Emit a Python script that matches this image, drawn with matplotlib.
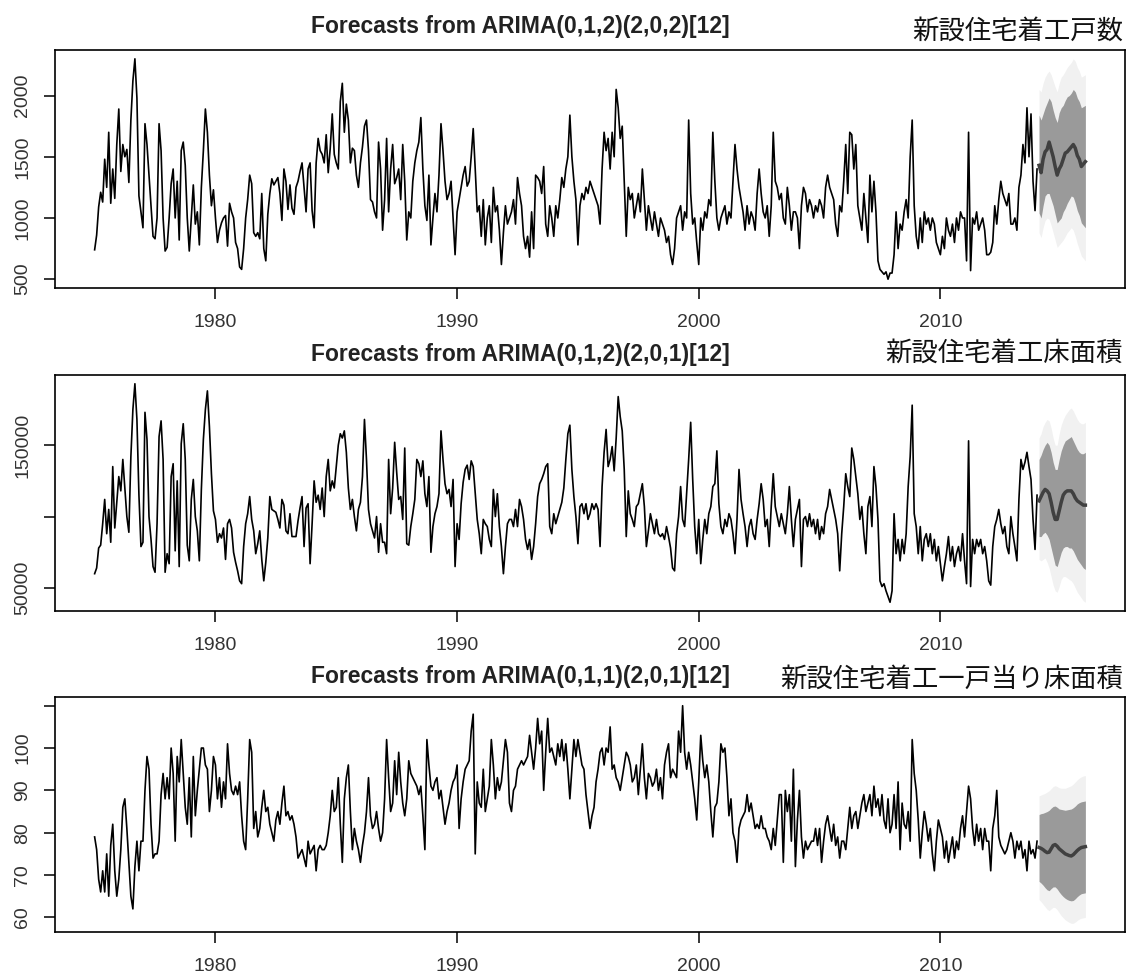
# Three ARIMA forecast panels for Japanese housing starts (monthly, 1975-2014)

import numpy as np
import matplotlib
matplotlib.use("Agg")
import matplotlib.pyplot as plt

# --- data: monthly, Jan 1975 .. Jan 2014, one row per year ---
starts = [
    740, 860, 1090, 1210, 1130, 1480, 1250, 1700, 1120, 1400, 1160, 1600,
    1890, 1380, 1600, 1500, 1560, 1290, 1800, 2120, 2300, 1980, 1180, 1050,
    920, 1770, 1600, 1350, 1100, 850, 830, 1000, 1770, 1550, 1000, 730,
    760, 1000, 1280, 1400, 1000, 1300, 820, 1550, 1620, 1430, 1000, 730,
    1000, 1270, 950, 1050, 780, 1250, 1550, 1890, 1700, 1350, 1100, 1230,
    1000, 800, 900, 960, 1000, 1020, 770, 1120, 1050, 1000, 800, 750,
    600, 580, 750, 1000, 1150, 1350, 1280, 880, 850, 880, 830, 1200,
    750, 650, 1030, 1200, 1320, 1270, 1300, 1330, 1200, 980, 1400, 1300,
    1070, 1270, 1080, 1030, 1250, 1300, 1380, 1450, 1250, 1050, 1400, 1450,
    1060, 920, 1450, 1650, 1550, 1520, 1450, 1680, 1370, 1570, 1850, 1520,
    1450, 1400, 1950, 2100, 1700, 1930, 1800, 1450, 1570, 1550, 1350, 1250,
    1450, 1580, 1750, 1800, 1550, 1150, 1130, 1050, 1000, 1620, 1400, 900,
    1150, 1650, 1050, 1400, 1600, 1280, 1330, 1400, 1150, 1600, 1300, 820,
    1050, 1000, 1300, 1450, 1550, 1620, 1820, 1400, 1100, 980, 1350, 780,
    1000, 1200, 1050, 1350, 1770, 1550, 1300, 1150, 1200, 1300, 1000, 700,
    1050, 1150, 1250, 1350, 1420, 1260, 1300, 1500, 1730, 1400, 1050, 1100,
    850, 1150, 780, 1000, 1100, 800, 1250, 1050, 1100, 900, 620, 880,
    1100, 950, 1000, 1050, 1150, 950, 1330, 1200, 1100, 850, 750, 850,
    680, 1050, 750, 1350, 1330, 1300, 1200, 1420, 950, 850, 1100, 1000,
    850, 1100, 1000, 1150, 1330, 1250, 1400, 1500, 1840, 1500, 1300, 1150,
    780, 1100, 1200, 1150, 1250, 1200, 1300, 1250, 1200, 1150, 1100, 950,
    1400, 1700, 1550, 1650, 1400, 1700, 1500, 2050, 1900, 1650, 1750, 1300,
    850, 1250, 1150, 1200, 1000, 1100, 1200, 1050, 1400, 1150, 900, 1100,
    1000, 900, 1050, 950, 850, 1000, 950, 900, 800, 850, 700, 620,
    750, 1000, 1050, 1100, 900, 1050, 1000, 1800, 1200, 950, 1000, 800,
    620, 1000, 900, 1050, 1000, 1150, 1100, 1700, 1300, 1000, 900, 1000,
    1050, 1100, 950, 1050, 1000, 1300, 1600, 1400, 1250, 1150, 1050, 900,
    1100, 950, 1050, 1000, 900, 1200, 1400, 1200, 1050, 1000, 1100, 850,
    1100, 1700, 1300, 1250, 1150, 1200, 1000, 950, 1250, 1100, 900, 1050,
    1050, 1000, 750, 1100, 1250, 1200, 1050, 1150, 1100, 1000, 1100, 1050,
    1150, 1100, 1000, 1250, 1350, 1250, 1200, 1150, 950, 850, 1100, 1050,
    1300, 1600, 1200, 1700, 1680, 1400, 1600, 1100, 1000, 900, 1200, 1000,
    800, 1350, 1050, 1300, 1050, 650, 580, 560, 540, 560, 500, 550,
    550, 700, 1050, 750, 950, 900, 1050, 1150, 1000, 1500, 1800, 1100,
    850, 750, 1000, 800, 1050, 950, 1000, 900, 1000, 950, 800, 750,
    700, 850, 750, 1000, 900, 850, 950, 800, 1000, 900, 1050, 1000,
    1000, 650, 1700, 570, 1000, 950, 1050, 900, 950, 1000, 900, 700,
    700, 720, 800, 1100, 950, 1150, 1300, 1200, 1150, 1100, 1200, 950,
    950, 1000, 900, 1250, 1350, 1600, 1450, 1900, 1500, 1850, 1300, 1060,
    1400,
]

area = [
    60000, 64000, 78000, 80000, 95000, 112000, 88000, 105000, 82000, 135000, 92000, 110000,
    128000, 118000, 140000, 120000, 100000, 89000, 142000, 175000, 193000, 168000, 115000, 79000,
    82000, 173000, 154000, 100000, 84000, 65000, 61000, 95000, 156000, 167000, 140000, 61000,
    74000, 67000, 128000, 137000, 76000, 125000, 65000, 151000, 165000, 140000, 80000, 69000,
    112000, 126000, 100000, 90000, 69000, 119000, 154000, 175000, 188000, 163000, 130000, 104000,
    98000, 82000, 88000, 85000, 92000, 70000, 95000, 98000, 92000, 75000, 68000, 62000,
    55000, 53000, 79000, 95000, 102000, 114000, 98000, 90000, 74000, 81000, 90000, 70000,
    55000, 68000, 85000, 114000, 105000, 104000, 103000, 98000, 92000, 112000, 108000, 90000,
    88000, 102000, 86000, 86000, 86000, 97000, 106000, 114000, 79000, 106000, 109000, 67000,
    95000, 125000, 110000, 115000, 105000, 120000, 100000, 128000, 140000, 118000, 125000, 120000,
    135000, 150000, 158000, 155000, 160000, 145000, 120000, 105000, 112000, 100000, 90000, 105000,
    110000, 128000, 168000, 140000, 105000, 95000, 90000, 85000, 100000, 75000, 95000, 82000,
    82000, 74000, 140000, 102000, 120000, 152000, 131000, 112000, 114000, 98000, 148000, 81000,
    80000, 93000, 102000, 112000, 140000, 137000, 128000, 139000, 116000, 107000, 128000, 75000,
    93000, 102000, 107000, 116000, 160000, 140000, 123000, 116000, 119000, 107000, 126000, 65000,
    95000, 84000, 109000, 124000, 133000, 136000, 126000, 139000, 135000, 116000, 98000, 88000,
    74000, 98000, 95000, 93000, 84000, 79000, 119000, 100000, 116000, 93000, 79000, 60000,
    79000, 95000, 98000, 98000, 93000, 105000, 93000, 112000, 107000, 98000, 84000, 77000,
    84000, 70000, 79000, 95000, 114000, 123000, 126000, 130000, 135000, 137000, 93000, 88000,
    102000, 95000, 100000, 105000, 110000, 120000, 140000, 158000, 164000, 133000, 114000, 100000,
    81000, 107000, 109000, 102000, 109000, 98000, 102000, 109000, 105000, 109000, 105000, 79000,
    121000, 145000, 161000, 135000, 140000, 149000, 132000, 155000, 184000, 170000, 160000, 133000,
    86000, 118000, 102000, 98000, 93000, 107000, 109000, 116000, 123000, 107000, 79000, 90000,
    102000, 95000, 88000, 98000, 88000, 86000, 88000, 84000, 93000, 86000, 78000, 64000,
    62000, 88000, 100000, 121000, 98000, 93000, 116000, 140000, 166000, 126000, 93000, 74000,
    98000, 67000, 84000, 98000, 88000, 102000, 107000, 121000, 123000, 146000, 109000, 93000,
    88000, 98000, 93000, 102000, 98000, 88000, 74000, 98000, 133000, 112000, 102000, 93000,
    79000, 93000, 98000, 88000, 84000, 98000, 109000, 123000, 112000, 93000, 98000, 79000,
    107000, 130000, 107000, 100000, 93000, 102000, 95000, 88000, 102000, 121000, 98000, 79000,
    98000, 105000, 112000, 65000, 98000, 100000, 93000, 102000, 93000, 98000, 88000, 98000,
    84000, 93000, 88000, 102000, 107000, 119000, 112000, 105000, 98000, 88000, 62000, 88000,
    107000, 130000, 121000, 114000, 148000, 140000, 128000, 116000, 98000, 107000, 88000, 74000,
    107000, 114000, 93000, 135000, 121000, 98000, 55000, 51000, 53000, 48000, 44000, 40000,
    48000, 102000, 74000, 84000, 69000, 84000, 74000, 88000, 121000, 142000, 178000, 102000,
    93000, 74000, 93000, 69000, 84000, 88000, 79000, 88000, 74000, 84000, 69000, 79000,
    67000, 55000, 65000, 74000, 86000, 69000, 79000, 65000, 74000, 79000, 69000, 88000,
    69000, 53000, 153000, 51000, 84000, 74000, 84000, 79000, 84000, 74000, 79000, 69000,
    55000, 52000, 79000, 93000, 98000, 105000, 95000, 88000, 93000, 79000, 74000, 100000,
    88000, 79000, 69000, 112000, 140000, 133000, 138000, 145000, 135000, 126000, 98000, 77000,
    115000,
]

per_unit = [
    79, 76, 69, 66, 71, 66, 75, 65, 77, 82, 71, 65,
    69, 76, 86, 88, 81, 73, 65, 62, 72, 78, 71, 78,
    78, 90, 98, 95, 82, 74, 75, 75, 78, 89, 94, 88,
    93, 88, 100, 94, 78, 98, 92, 102, 94, 86, 82, 93,
    79, 98, 84, 90, 95, 100, 100, 96, 95, 85, 90, 98,
    96, 88, 93, 86, 92, 88, 101, 94, 90, 89, 91, 89,
    92, 84, 78, 76, 88, 102, 99, 81, 85, 79, 81, 86,
    90, 85, 86, 82, 80, 78, 83, 85, 82, 87, 91, 84,
    85, 83, 84, 82, 79, 74, 75, 76, 74, 72, 78, 75,
    76, 77, 71, 76, 77, 76, 76, 77, 80, 84, 90, 85,
    86, 93, 82, 73, 88, 93, 96, 85, 76, 81, 78, 76,
    73, 77, 80, 85, 93, 84, 81, 82, 85, 81, 78, 80,
    88, 102, 93, 85, 87, 97, 89, 99, 92, 87, 84, 88,
    97, 94, 93, 92, 91, 89, 91, 84, 76, 102, 96, 91,
    90, 92, 93, 88, 90, 86, 82, 85, 87, 90, 92, 93,
    96, 81, 88, 92, 95, 96, 97, 104, 108, 75, 92, 87,
    86, 95, 85, 88, 91, 102, 96, 88, 93, 90, 92, 97,
    102, 99, 87, 85, 90, 91, 95, 96, 97, 96, 97, 98,
    103, 99, 95, 100, 107, 101, 104, 90, 99, 107, 99, 100,
    98, 96, 101, 98, 102, 97, 101, 95, 88, 95, 102, 98,
    102, 99, 96, 95, 89, 85, 81, 84, 86, 92, 95, 99,
    100, 96, 100, 99, 105, 95, 96, 93, 92, 90, 93, 96,
    99, 98, 96, 92, 93, 96, 89, 95, 101, 93, 88, 94,
    93, 91, 92, 95, 90, 93, 88, 96, 99, 101, 93, 95,
    94, 93, 104, 99, 110, 99, 95, 99, 96, 92, 88, 83,
    92, 103, 97, 93, 96, 92, 85, 79, 86, 87, 92, 101,
    99, 100, 93, 84, 88, 80, 78, 73, 81, 83, 84, 85,
    89, 85, 87, 84, 81, 82, 81, 84, 81, 81, 79, 78,
    76, 81, 77, 83, 89, 89, 73, 90, 85, 89, 78, 95,
    72, 83, 90, 79, 74, 78, 76, 77, 78, 78, 81, 77,
    81, 73, 78, 82, 84, 81, 78, 82, 77, 79, 74, 78,
    78, 76, 81, 86, 81, 84, 85, 81, 84, 87, 89, 85,
    87, 89, 84, 91, 86, 88, 84, 89, 83, 81, 88, 80,
    82, 89, 81, 92, 76, 87, 82, 81, 85, 78, 102, 94,
    90, 83, 74, 80, 85, 82, 78, 81, 75, 71, 78, 83,
    81, 79, 74, 78, 73, 76, 79, 74, 78, 76, 81, 84,
    79, 85, 91, 88, 81, 77, 82, 78, 81, 76, 81, 78,
    78, 71, 81, 84, 90, 79, 77, 76, 75, 76, 78, 80,
    78, 74, 78, 76, 78, 74, 76, 71, 78, 75, 76, 74,
    78,
]

# --- forecasts: 24 months, Feb 2014 .. Jan 2016 ---
starts_mean = [1430, 1370, 1480, 1540, 1560, 1620, 1560, 1500, 1420, 1350, 1400, 1430,
               1480, 1530, 1540, 1560, 1580, 1600, 1570, 1510, 1480, 1420, 1440, 1460]
starts_lo80 = [1040, 1000, 1100, 1180, 1200, 1200, 1150, 1100, 1030, 960, 980, 1000,
               1050, 1080, 1120, 1150, 1180, 1170, 1120, 1060, 1020, 960, 940, 920]
starts_hi80 = [1840, 1800, 1850, 1900, 1940, 1980, 1950, 1880, 1820, 1780, 1860, 1900,
               1920, 1960, 1990, 2000, 2020, 2050, 2030, 1980, 1950, 1900, 1910, 1920]
starts_lo95 = [880, 840, 920, 980, 1000, 990, 940, 880, 820, 760, 780, 800,
               820, 850, 880, 900, 920, 900, 850, 790, 740, 690, 670, 650]
starts_hi95 = [2050, 2030, 2100, 2150, 2180, 2200, 2170, 2120, 2070, 2030, 2100, 2150,
               2170, 2200, 2230, 2250, 2270, 2300, 2280, 2230, 2200, 2150, 2160, 2170]

area_mean = [111000, 114000, 117000, 119000, 118000, 116000, 110000, 103000, 98000, 98000, 104000, 110000,
             115000, 117000, 118000, 118000, 118000, 116000, 113000, 111000, 110000, 109000, 108000, 108000]
area_lo80 = [86000, 86000, 88000, 89000, 87000, 84000, 78000, 72000, 66000, 65000, 70000, 75000,
             78000, 79000, 79000, 78000, 78000, 76000, 73000, 70000, 68000, 66000, 64000, 63000]
area_hi80 = [140000, 143000, 147000, 150000, 152000, 150000, 145000, 138000, 133000, 133000, 140000, 146000,
             150000, 153000, 154000, 155000, 156000, 153000, 150000, 147000, 145000, 144000, 144000, 145000]
area_lo95 = [70000, 69000, 70000, 71000, 68000, 64000, 58000, 52000, 48000, 47000, 51000, 56000,
             58000, 58000, 57000, 56000, 55000, 53000, 50000, 47000, 45000, 43000, 41000, 40000]
area_hi95 = [155000, 158000, 163000, 166000, 168000, 167000, 162000, 155000, 150000, 150000, 158000, 164000,
             168000, 171000, 173000, 175000, 176000, 174000, 171000, 168000, 166000, 165000, 165000, 166000]

unit_mean = [76.5, 76.3, 76.0, 75.6, 75.3, 75.4, 76.2, 77.0, 77.2, 76.8, 76.2, 75.8,
             75.4, 75.0, 74.8, 74.6, 74.5, 74.8, 75.3, 75.8, 76.2, 76.5, 76.6, 76.7]
unit_lo80 = [68.5, 68.1, 67.6, 67.0, 66.5, 66.3, 66.8, 67.2, 67.2, 66.7, 66.0, 65.4,
             64.9, 64.5, 64.2, 64.0, 63.9, 64.0, 64.4, 64.9, 65.3, 65.6, 65.7, 65.8]
unit_hi80 = [84.3, 84.5, 84.6, 84.8, 85.0, 85.3, 85.8, 86.2, 86.3, 86.0, 85.6, 85.5,
             85.4, 85.3, 85.4, 85.5, 85.6, 85.9, 86.3, 86.8, 87.1, 87.3, 87.4, 87.5]
unit_lo95 = [64.2, 63.7, 63.1, 62.5, 61.9, 61.6, 62.0, 62.4, 62.3, 61.8, 61.1, 60.4,
             59.9, 59.4, 59.1, 58.8, 58.6, 58.6, 58.9, 59.3, 59.6, 59.8, 59.9, 60.0]
unit_hi95 = [88.7, 88.9, 89.1, 89.3, 89.6, 89.9, 90.4, 90.9, 91.1, 90.9, 90.6, 90.5,
             90.5, 90.5, 90.7, 90.9, 91.1, 91.5, 92.0, 92.5, 92.9, 93.2, 93.4, 93.5]

titles = ["Forecasts from ARIMA(0,1,2)(2,0,2)[12]",
          "Forecasts from ARIMA(0,1,2)(2,0,1)[12]",
          "Forecasts from ARIMA(0,1,1)(2,0,1)[12]"]
jp_titles = ["新設住宅着工戸数", "新設住宅着工床面積", "新設住宅着工一戸当り床面積"]

x_ticks = [1980, 1990, 2000, 2010]
y_ticks = [[500, 1000, 1500, 2000], [50000, 100000, 150000], [60, 70, 80, 90, 100, 110]]
y_labels = [["500", "1000", "1500", "2000"], ["50000", "", "150000"],
            ["60", "70", "80", "90", "100", ""]]

W, H = 1127, 976
fig = plt.figure(figsize=(W / 100, H / 100), dpi=100)

# panel boxes in pixels: (top, bottom), plus title centre heights
boxes = [(50, 288), (375, 611), (697, 932)]
title_y = [27, 355, 676]
jp_y = [31, 353, 679]
left_px, right_px = 55, 1125
latin = ["Liberation Sans", "DejaVu Sans"]

panels = [
    (starts, starts_mean, starts_lo80, starts_hi80, starts_lo95, starts_hi95),
    (area, area_mean, area_lo80, area_hi80, area_lo95, area_hi95),
    (per_unit, unit_mean, unit_lo80, unit_hi80, unit_lo95, unit_hi95),
]

for i, (obs, fmean, lo80, hi80, lo95, hi95) in enumerate(panels):
    top, bot = boxes[i]
    ax = fig.add_axes([left_px / W, 1 - bot / H, (right_px - left_px) / W, (bot - top) / H])

    t_obs = 1975 + np.arange(len(obs)) / 12
    t_fc = 1975 + (len(obs) + np.arange(len(fmean))) / 12

    ax.plot(t_obs, obs, color="black", lw=1.2)
    ax.fill_between(t_fc, lo95, hi95, color="#f1f1f1", lw=0)
    ax.fill_between(t_fc, lo80, hi80, color="#9a9a9a", lw=0)
    ax.plot(t_fc, fmean, color="#404040", lw=2.5)

    ax.margins(x=0.04, y=0.04)

    ax.set_xticks(x_ticks)
    ax.set_xticklabels([str(v) for v in x_ticks])
    ax.set_yticks(y_ticks[i])
    ax.set_yticklabels(y_labels[i])
    for lab in ax.get_yticklabels():
        lab.set_rotation(90)
        lab.set_va("center")
    for lab in ax.get_xticklabels() + ax.get_yticklabels():
        lab.set_family(latin)

    ax.tick_params(direction="out", length=8, width=1.1, colors="black",
                   labelsize=14, labelcolor="#333333")
    ax.tick_params(axis="x", pad=11)
    ax.tick_params(axis="y", pad=9)
    for s in ax.spines.values():
        s.set_linewidth(1.2)

    fig.text(520 / W, 1 - title_y[i] / H, titles[i], ha="center", va="center",
             fontsize=16.5, fontweight="bold", color="#222222", family=latin)
    fig.text(1123 / W, 1 - jp_y[i] / H, jp_titles[i], ha="right", va="center",
             fontsize=19, color="#111111",
             family=["Noto Sans CJK JP", "DejaVu Sans"])

fig.savefig("out.png", dpi=100)
